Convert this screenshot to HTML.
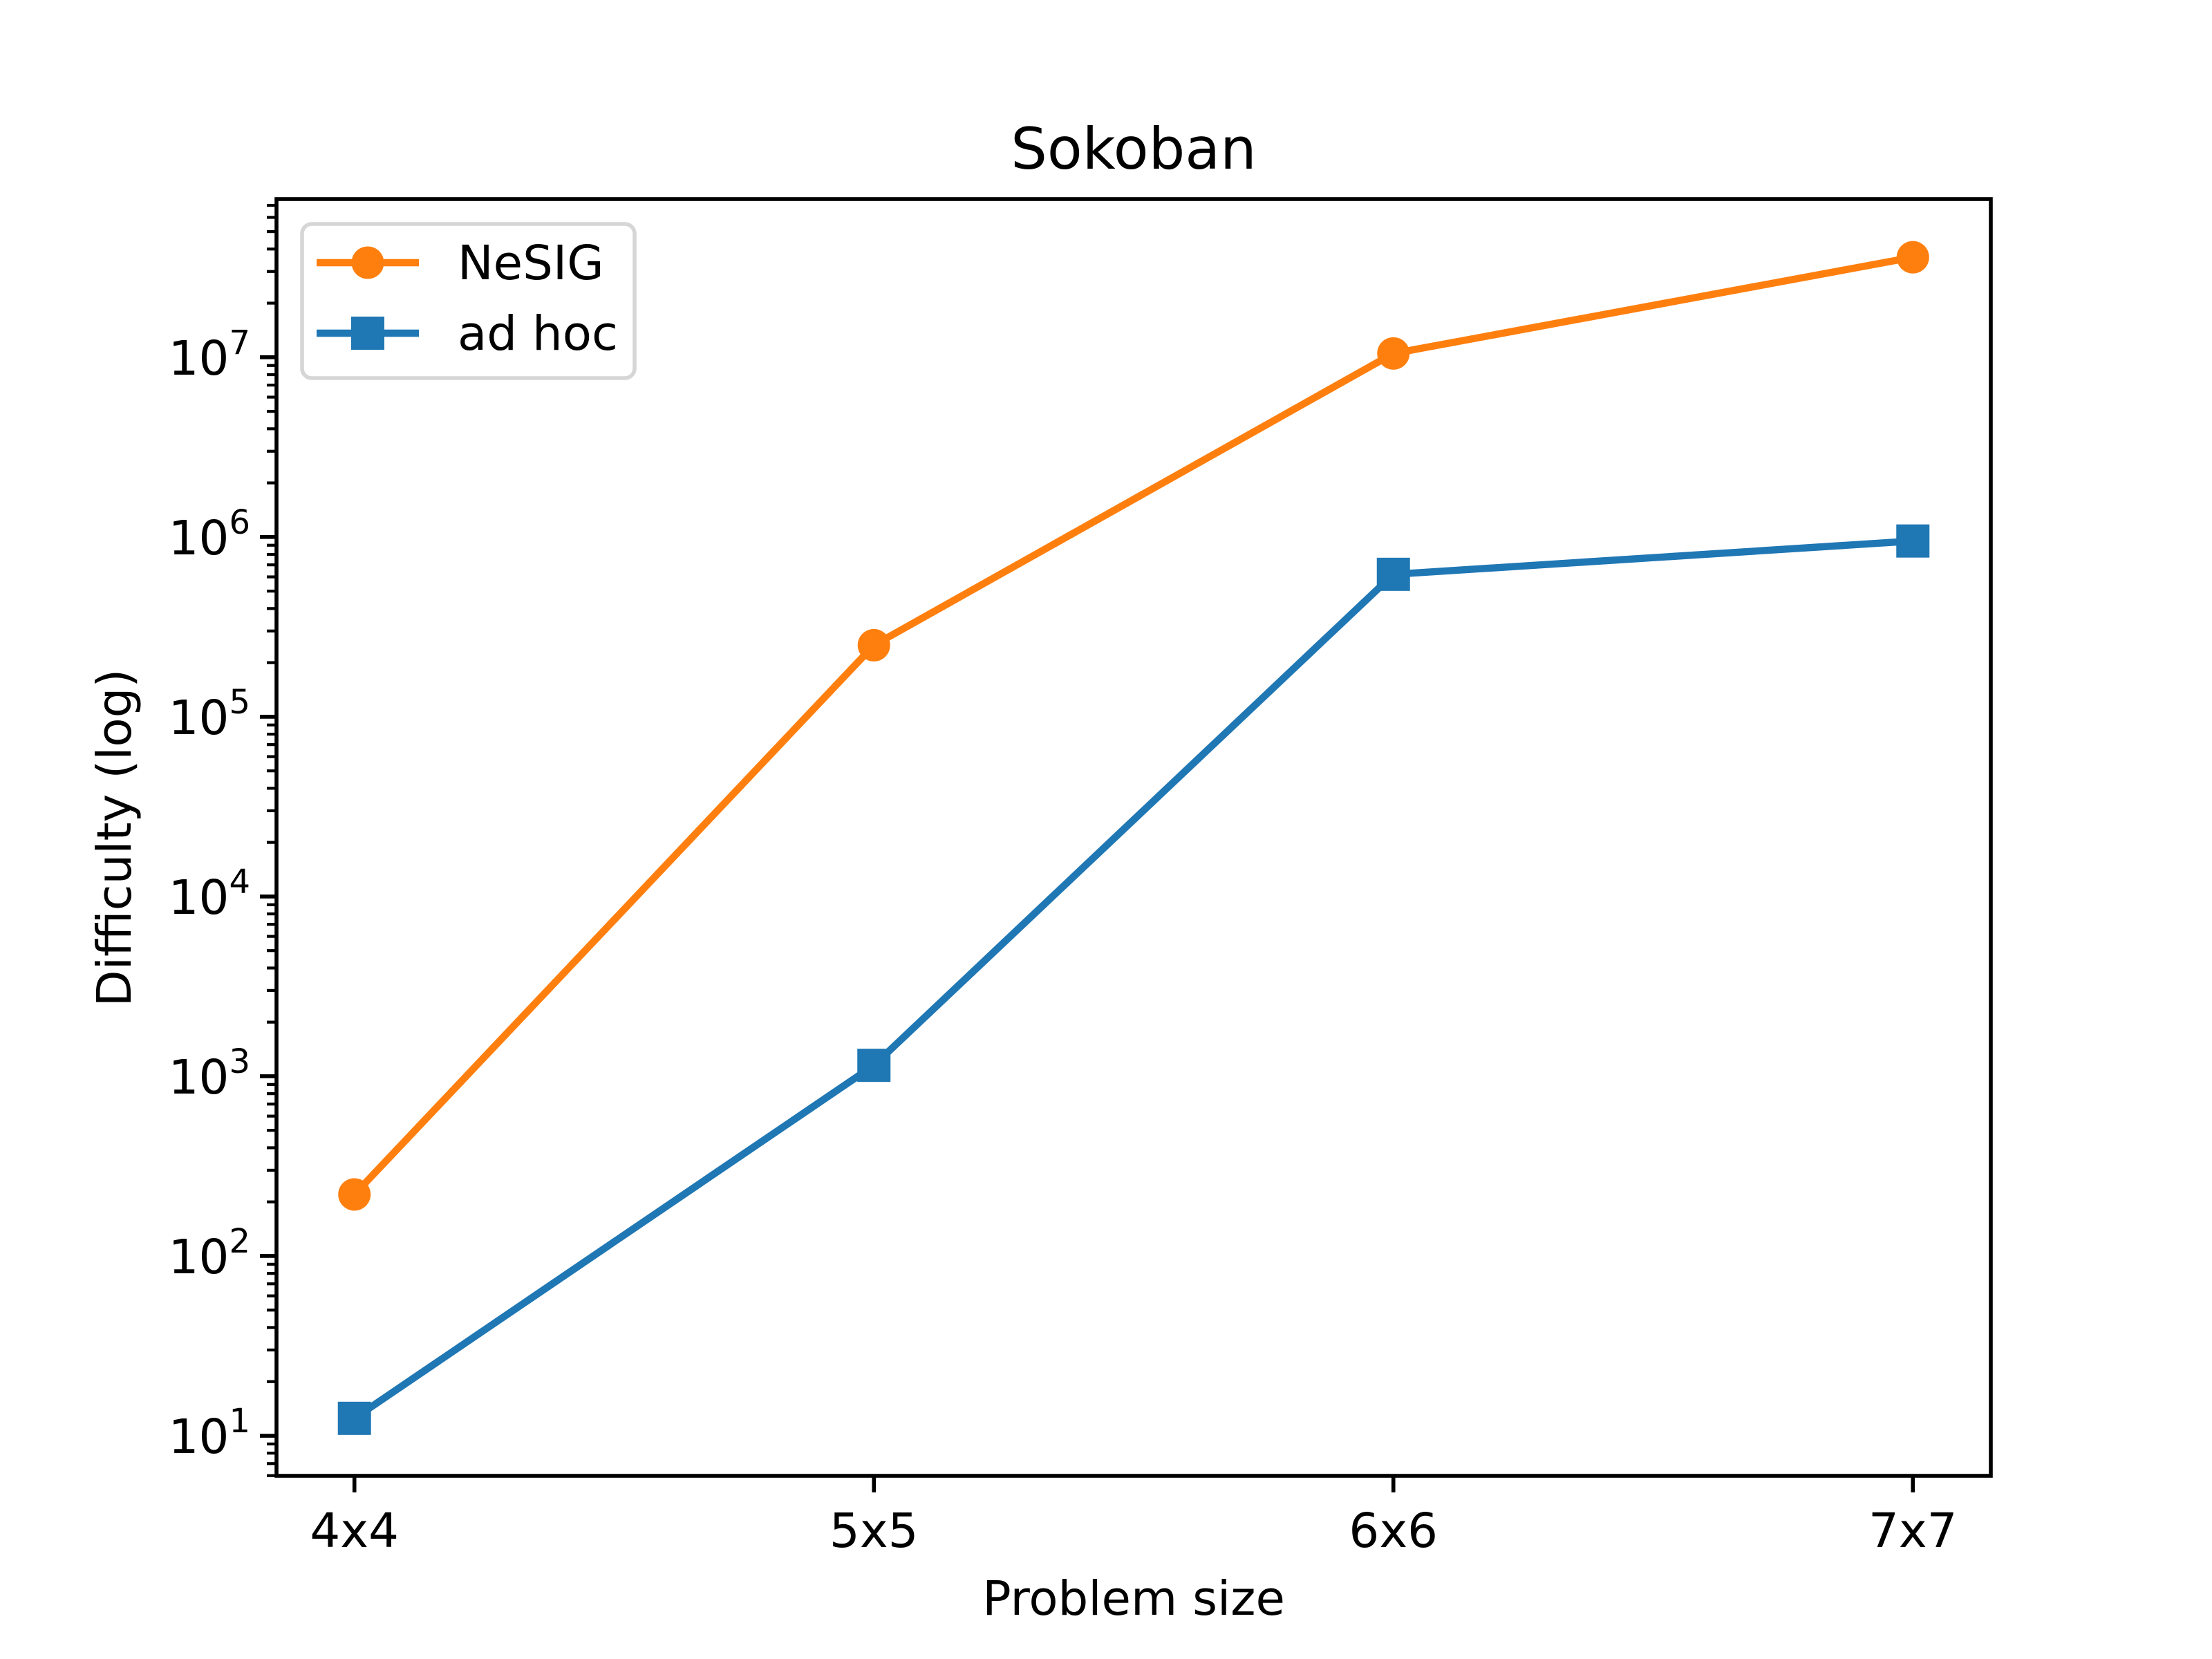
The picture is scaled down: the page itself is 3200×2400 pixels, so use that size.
<!DOCTYPE html>
<html><head><meta charset="utf-8"><style>
html,body{margin:0;padding:0;background:#fff}
svg{display:block;font-family:"DejaVu Sans","Liberation Sans",sans-serif}
</style></head><body>
<svg id="chart" width="3200" height="2400" viewBox="0 0 3200 2400">
<rect width="3200" height="2400" fill="#fff"/>
<text x="1640" y="244" font-size="83" text-anchor="middle">Sokoban</text>
<text x="1640" y="2336" font-size="69" text-anchor="middle">Problem size</text>
<text transform="translate(189,1212) rotate(-90)" font-size="69" text-anchor="middle">Difficulty (log)</text>
<g id="ticks"></g>
<g id="series"></g>
<rect x="400" y="288" width="2480" height="1847" fill="none" stroke="#000" stroke-width="5.6"/>
<g>
<rect x="437" y="324" width="481" height="223" rx="14" fill="#fff" fill-opacity="0.8" stroke="#d6d6d6" stroke-width="5.6"/>
<g>
<line x1="458" y1="380" x2="606" y2="380" stroke="#ff7f0e" stroke-width="10.4"/>
<circle cx="532" cy="380" r="23.5" fill="#ff7f0e"/>
<text x="662" y="404" font-size="69">NeSIG</text></g>
<g>
<line x1="458" y1="482" x2="606" y2="482" stroke="#1f77b4" stroke-width="10.4"/>
<rect x="508" y="458" width="48" height="48" fill="#1f77b4"/>
<text x="662" y="506" font-size="69">ad hoc</text></g>
</g>
</svg>
<script>
const categories = ["4x4","5x5","6x6","7x7"];
const nesigValues = [220, 250000, 10500000, 36000000];
const adHocValues = [12.5, 1150, 620000, 950000];
const yTickExponents = [1,2,3,4,5,6,7];

const NS="http://www.w3.org/2000/svg";
const X0=400,X1=2880,Y0=2135,Y1=288;
const yMinLog=0.777,yMaxLog=7.88;
const xMin=-0.15,xMax=categories.length-1+0.15;
function xs(i){return X0+(i-xMin)/(xMax-xMin)*(X1-X0);}
function ys(v){return Y0-(Math.log10(v)-yMinLog)/(yMaxLog-yMinLog)*(Y0-Y1);}
function mk(tag,attrs,parent){const e=document.createElementNS(NS,tag);for(const k in attrs)e.setAttribute(k,attrs[k]);parent.appendChild(e);return e;}

const tg=document.getElementById('ticks');
categories.forEach((c,i)=>{
  const x=xs(i);
  const l=mk('line',{x1:x,x2:x,y1:Y0,y2:Y0+24,stroke:'#000','stroke-width':5.6},tg);
  
  
  const t=mk('text',{x:x,y:Y0+103,'font-size':69,'text-anchor':'middle'},tg);
  t.textContent=c;
  
  
});
yTickExponents.forEach(e=>{
  const y=ys(Math.pow(10,e));
  const l=mk('line',{x1:X0-24,x2:X0,y1:y,y2:y,stroke:'#000','stroke-width':5.6},tg);
  
  
  const t=mk('text',{x:X0-38,y:y+25,'font-size':69,'text-anchor':'end'},tg);
  
  
  const a=mk('tspan',{},t);a.textContent='10';
  const b=mk('tspan',{dy:-30,'font-size':48},t);b.textContent=String(e);
});
for(let e=0;e<=8;e++){for(let m=2;m<=9;m++){
  const v=m*Math.pow(10,e);const lg=Math.log10(v);
  if(lg<yMinLog||lg>yMaxLog)continue;
  const y=ys(v);
  const l=mk('line',{x1:X0-14,x2:X0,y1:y,y2:y,stroke:'#000','stroke-width':4.2},tg);
  
  
}}

const sg=document.getElementById('series');
function drawSeries(vals,color,shape,name){
  const g=mk('g',{},sg);
  
  
  const pts=vals.map((v,i)=>xs(i)+','+ys(v)).join(' ');
  const pl=mk('polyline',{points:pts,fill:'none',stroke:color,'stroke-width':10.4,'stroke-linejoin':'round','stroke-linecap':'square'},g);
  
  
  vals.forEach((v,i)=>{
    let m;
    if(shape==='circle') m=mk('circle',{cx:xs(i),cy:ys(v),r:23.5,fill:color},g);
    else m=mk('rect',{x:xs(i)-24,y:ys(v)-24,width:48,height:48,fill:color},g);
    
    
  });
}
drawSeries(adHocValues,'#1f77b4','square','ad-hoc-series');
drawSeries(nesigValues,'#ff7f0e','circle','nesig-series');
</script>
</body></html>
